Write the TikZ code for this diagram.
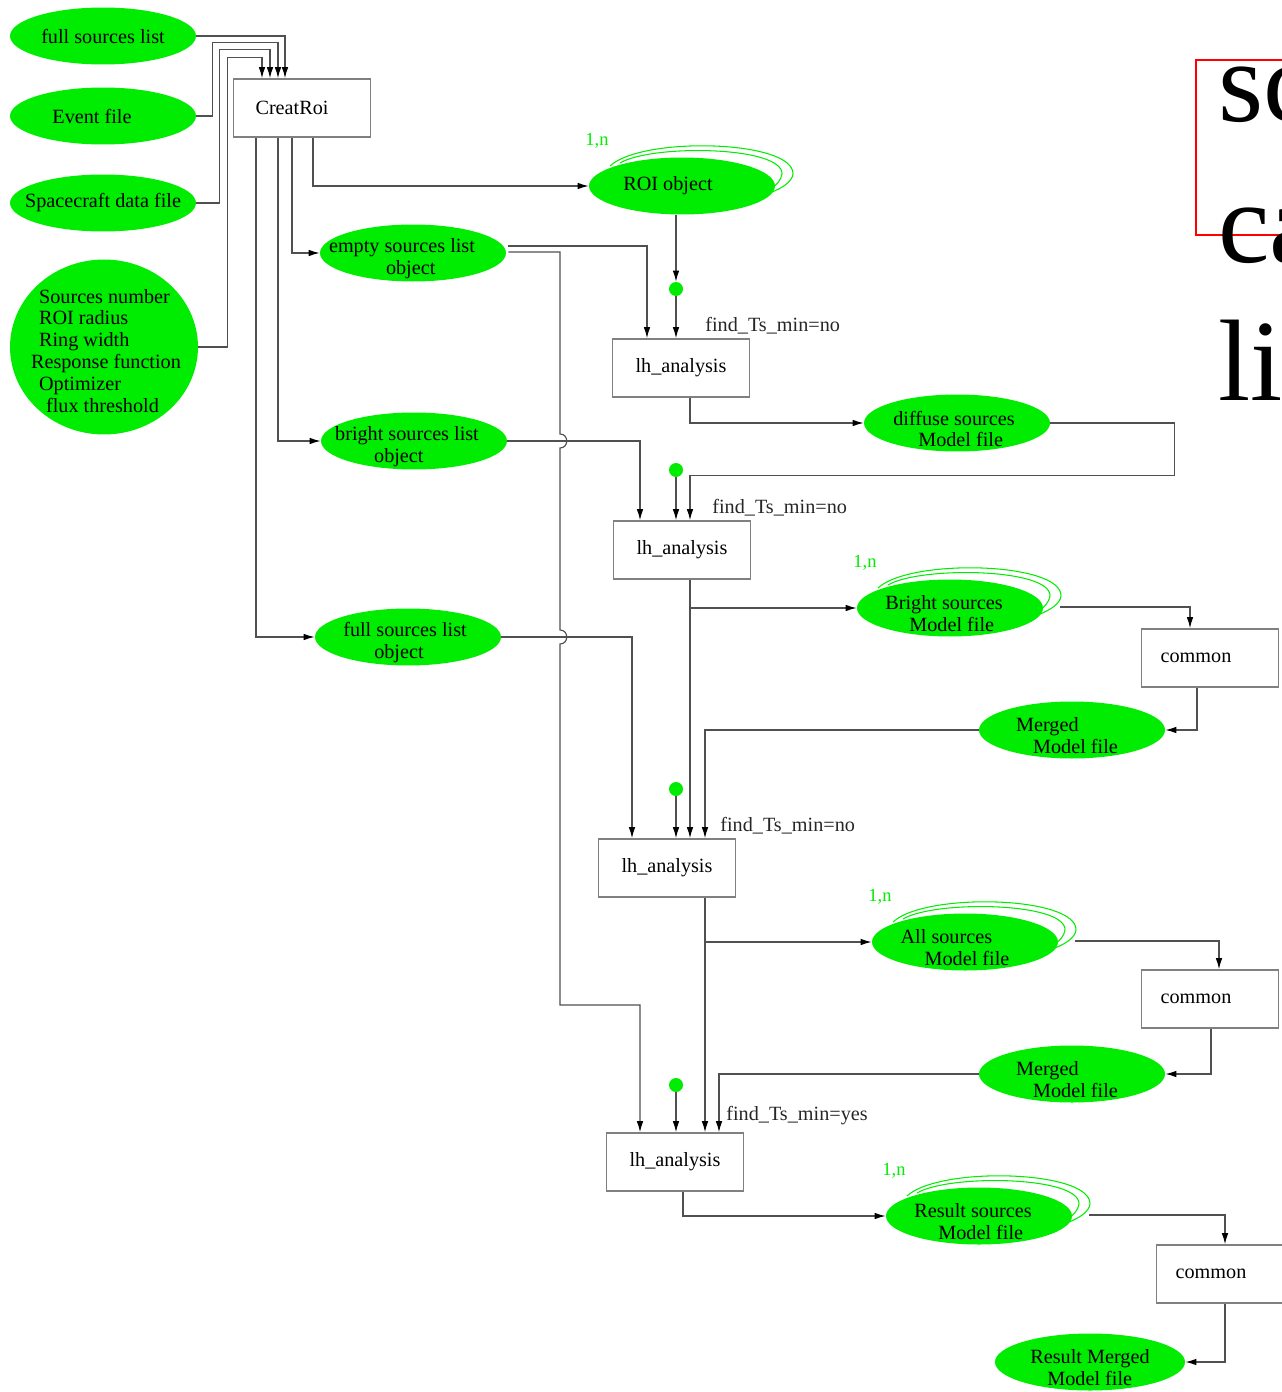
\documentclass[tikz,border=0pt]{standalone}
\usepackage{fontspec}
\setmainfont{Liberation Serif}
\usepackage{tikz}
\usetikzlibrary{shapes.geometric, arrows.meta}
\definecolor{filegreen}{RGB}{0,236,0}
\definecolor{linegray}{RGB}{80,80,80}
\tikzstyle{datafile} = [ellipse,
    fill=filegreen,
    minimum width=3.72cm,
    minimum height=1.14cm,
    inner sep=0pt]
\tikzstyle{filetext} = [align=left, inner sep=0pt, text=black]
\tikzstyle{twoline} = [filetext, yshift=-0.12cm]
\tikzstyle{process} = [rectangle,
    minimum width=2.74cm,
    minimum height=1.16cm,
    draw=black!50,
    line width=0.9pt,
    fill=white]
\tikzstyle{junction} = [circle, fill=filegreen, minimum size=0.28cm, inner sep=0pt]
\tikzstyle{arrow} = [draw=linegray, line width=0.65pt, -{Latex[length=2.2mm,width=1.3mm,color=black]}]
\tikzstyle{loopline} = [draw=filegreen, line width=0.6pt]
\tikzstyle{mult} = [text=filegreen, inner sep=0pt, font=\fontsize{10.5}{12}\selectfont]
\tikzstyle{option} = [anchor=west, inner sep=0pt, text=black!85]
\tikzstyle{bigtext} = [anchor=base west, inner sep=0pt, font=\fontsize{66}{79}\selectfont]

\begin{document}
\begin{tikzpicture}[x=0.02cm, y=-0.02cm, font=\fontsize{11.5}{12.5}\selectfont]
        \useasboundingbox (0,0) rectangle (1281,1392);

        % inputs of CreatRoi
        \node (fsl) [datafile, label={[filetext]center:full sources list}] at (103,36) {};
        \node (event) [datafile, label={[filetext, xshift=-0.22cm]center:Event file}] at (103,116) {};
        \node (craft) [datafile, label={[filetext]center:Spacecraft data file}] at (103,203) {};
        \node (params) [datafile, minimum width=3.76cm, minimum height=3.5cm,
            label={[filetext, xshift=0.04cm, yshift=-0.08cm]center:{\hspace*{0.16cm}Sources number\\\hspace*{0.16cm}ROI radius\\\hspace*{0.16cm}Ring width\\Response function\\\hspace*{0.16cm}Optimizer\\\hspace*{0.3cm}flux threshold}}] at (104,347) {};
        \node (creatroi) [process] at (302,108) {CreatRoi\hspace*{0.4cm}};

        % objects
        \node (roi) [datafile, label={[filetext, xshift=-0.28cm]center:ROI object}] at (682,186) {};
        \node (emptyobj) [datafile, label={[twoline, xshift=-0.22cm]center:{empty sources list\\\hspace*{1.14cm}object}}] at (413,253) {};
        \node (brightobj) [datafile, label={[twoline, xshift=-0.14cm]center:{bright sources list\\\hspace*{0.78cm}object}}] at (414,441) {};
        \node (fullobj) [datafile, label={[twoline, xshift=-0.06cm]center:{full sources list\\\hspace*{0.62cm}object}}] at (408,637) {};

        % analysis chain
        \node (dot1) [junction] at (676,289) {};
        \node (lh1) [process] at (681,368) {lh\_analysis};
        \node (lbl1) [option] at (705,326) {find\_Ts\_min=no};
        \node (diffuse) [datafile, label={[twoline, xshift=-0.06cm]center:{diffuse sources\\\hspace*{0.5cm}Model file}}] at (957,423) {};

        \node (dot2) [junction] at (676,470) {};
        \node (lh2) [process] at (682,550) {lh\_analysis};
        \node (lbl2) [option] at (712,508) {find\_Ts\_min=no};
        \node (brightm) [datafile, label={[twoline, xshift=-0.12cm]center:{Bright sources\\\hspace*{0.48cm}Model file}}] at (950,608) {};
        \node (common1) [process] at (1210,658) {common\hspace*{0.56cm}};
        \node (merged1) [datafile, label={[twoline, xshift=-0.1cm]center:{Merged\\\hspace*{0.34cm}Model file}}] at (1072,730) {};

        \node (dot3) [junction] at (676,789) {};
        \node (lh3) [process] at (667,868) {lh\_analysis};
        \node (lbl3) [option] at (720,826) {find\_Ts\_min=no};
        \node (allm) [datafile, label={[twoline, xshift=-0.2cm]center:{All sources\\\hspace*{0.48cm}Model file}}] at (965,942) {};
        \node (common2) [process] at (1210,999) {common\hspace*{0.56cm}};
        \node (merged2) [datafile, label={[twoline, xshift=-0.1cm]center:{Merged\\\hspace*{0.34cm}Model file}}] at (1072,1074) {};

        \node (dot4) [junction] at (676,1085) {};
        \node (lh4) [process] at (675,1162) {lh\_analysis};
        \node (lbl4) [option] at (726,1116) {find\_Ts\_min=yes};
        \node (resm) [datafile, label={[twoline, xshift=-0.12cm]center:{Result sources\\\hspace*{0.48cm}Model file}}] at (979,1216) {};
        \node (common3) [process] at (1225,1274) {common\hspace*{0.56cm}};
        \node (resmerged) [datafile, minimum width=3.8cm, label={[twoline]center:{Result Merged\\\hspace*{0.34cm}Model file}}] at (1090,1362) {};

        % repeated outputs
        \foreach \n in {roi, brightm, allm, resm} {
            \begin{scope}[shift={(\n.center)}]
                \draw[loopline] (-72,-20) .. controls (-40,-50) and (112,-46) .. (111,-12)
                    .. controls (110,-4) and (100,2) .. (90,6);
                \draw[loopline] (-62,-23) .. controls (-30,-42) and (101,-40) .. (100,-12)
                    .. controls (99,-6) and (95,-1) .. (88,3);
                \node[mult] at (-85,-45) {1,n};
            \end{scope}
        }

        % cut text on the right
        \draw[red, line width=1.1pt] (1196,60) rectangle (1320,235);
        \node (bigsc) [bigtext] at (1218,122) {sc};
        \node (bigca) [bigtext] at (1218,262) {ca};
        \node (bigli) [bigtext] at (1218,400) {li};

        % into CreatRoi
        \draw [arrow] (fsl.east) -| ([shift={(-17,0)}]creatroi.north);
        \draw [arrow] (event.east) -- ++(16,0) |- ([shift={(-24,-36)}]creatroi.north) -- ([shift={(-24,0)}]creatroi.north);
        \draw [arrow] (craft.east) -- ++(23,0) |- ([shift={(-32,-29)}]creatroi.north) -- ([shift={(-32,0)}]creatroi.north);
        \draw [arrow] (params.east) -- ++(29,0) |- ([shift={(-40,-21)}]creatroi.north) -- ([shift={(-40,0)}]creatroi.north);

        % out of CreatRoi
        \draw [arrow] ([shift={(11,0)}]creatroi.south) |- (roi.west);
        \draw [arrow] ([shift={(-10,0)}]creatroi.south) |- (emptyobj.west);
        \draw [arrow] ([shift={(-24,0)}]creatroi.south) |- (brightobj.west);
        \draw [arrow] ([shift={(-46,0)}]creatroi.south) |- (fullobj.west);

        % objects into lh_analysis
        \draw [arrow] ([shift={(2,-7)}]emptyobj.east) -| ([shift={(-34,0)}]lh1.north);
        \draw [arrow] ([shift={(2,-1)}]emptyobj.east) -- (560,252) -- (560,434)
            .. controls (569,434) and (569,448) .. (560,448) -- (560,630)
            .. controls (569,630) and (569,644) .. (560,644) |- (600,1005)
            -| ([shift={(-35,0)}]lh4.north);
        \draw [arrow] (brightobj.east) -| ([shift={(-42,0)}]lh2.north);
        \draw [arrow] (fullobj.east) -| ([shift={(-35,0)}]lh3.north);
        \draw [arrow] (dot1 |- roi.south) -- (dot1.north);

        % lh_analysis steps
        \draw [arrow] (dot1) -- (dot1 |- lh1.north);
        \draw [arrow] ([shift={(9,0)}]lh1.south) |- (diffuse.west);
        \draw [arrow] (diffuse.east) -- ++(124,0) |- ([shift={(8,-45)}]lh2.north) -- ([shift={(8,0)}]lh2.north);

        \draw [arrow] (dot2) -- (dot2 |- lh2.north);
        \draw [arrow] ([shift={(8,0)}]lh2.south) -- ([shift={(23,0)}]lh3.north);
        \draw [arrow] ([shift={(8,0)}]lh2.south) |- (brightm.west);
        \draw [arrow] ([shift={(17,-1)}]brightm.east) -| ([shift={(-20,0)}]common1.north);
        \draw [arrow] ([shift={(-13,0)}]common1.south) |- (merged1.east);
        \draw [arrow] (merged1.west) -| ([shift={(38,0)}]lh3.north);

        \draw [arrow] (dot3) -- (dot3 |- lh3.north);
        \draw [arrow] ([shift={(38,0)}]lh3.south) -- ([shift={(30,0)}]lh4.north);
        \draw [arrow] ([shift={(38,0)}]lh3.south) |- (allm.west);
        \draw [arrow] ([shift={(17,-1)}]allm.east) -| ([shift={(9,0)}]common2.north);
        \draw [arrow] ([shift={(1,0)}]common2.south) |- (merged2.east);
        \draw [arrow] (merged2.west) -| ([shift={(44,0)}]lh4.north);

        \draw [arrow] (dot4) -- (dot4 |- lh4.north);
        \draw [arrow] ([shift={(8,0)}]lh4.south) |- (resm.west);
        \draw [arrow] ([shift={(17,-1)}]resm.east) -| (common3.north);
        \draw [arrow] (common3.south) |- (resmerged.east);
    \end{tikzpicture}
\end{document}
